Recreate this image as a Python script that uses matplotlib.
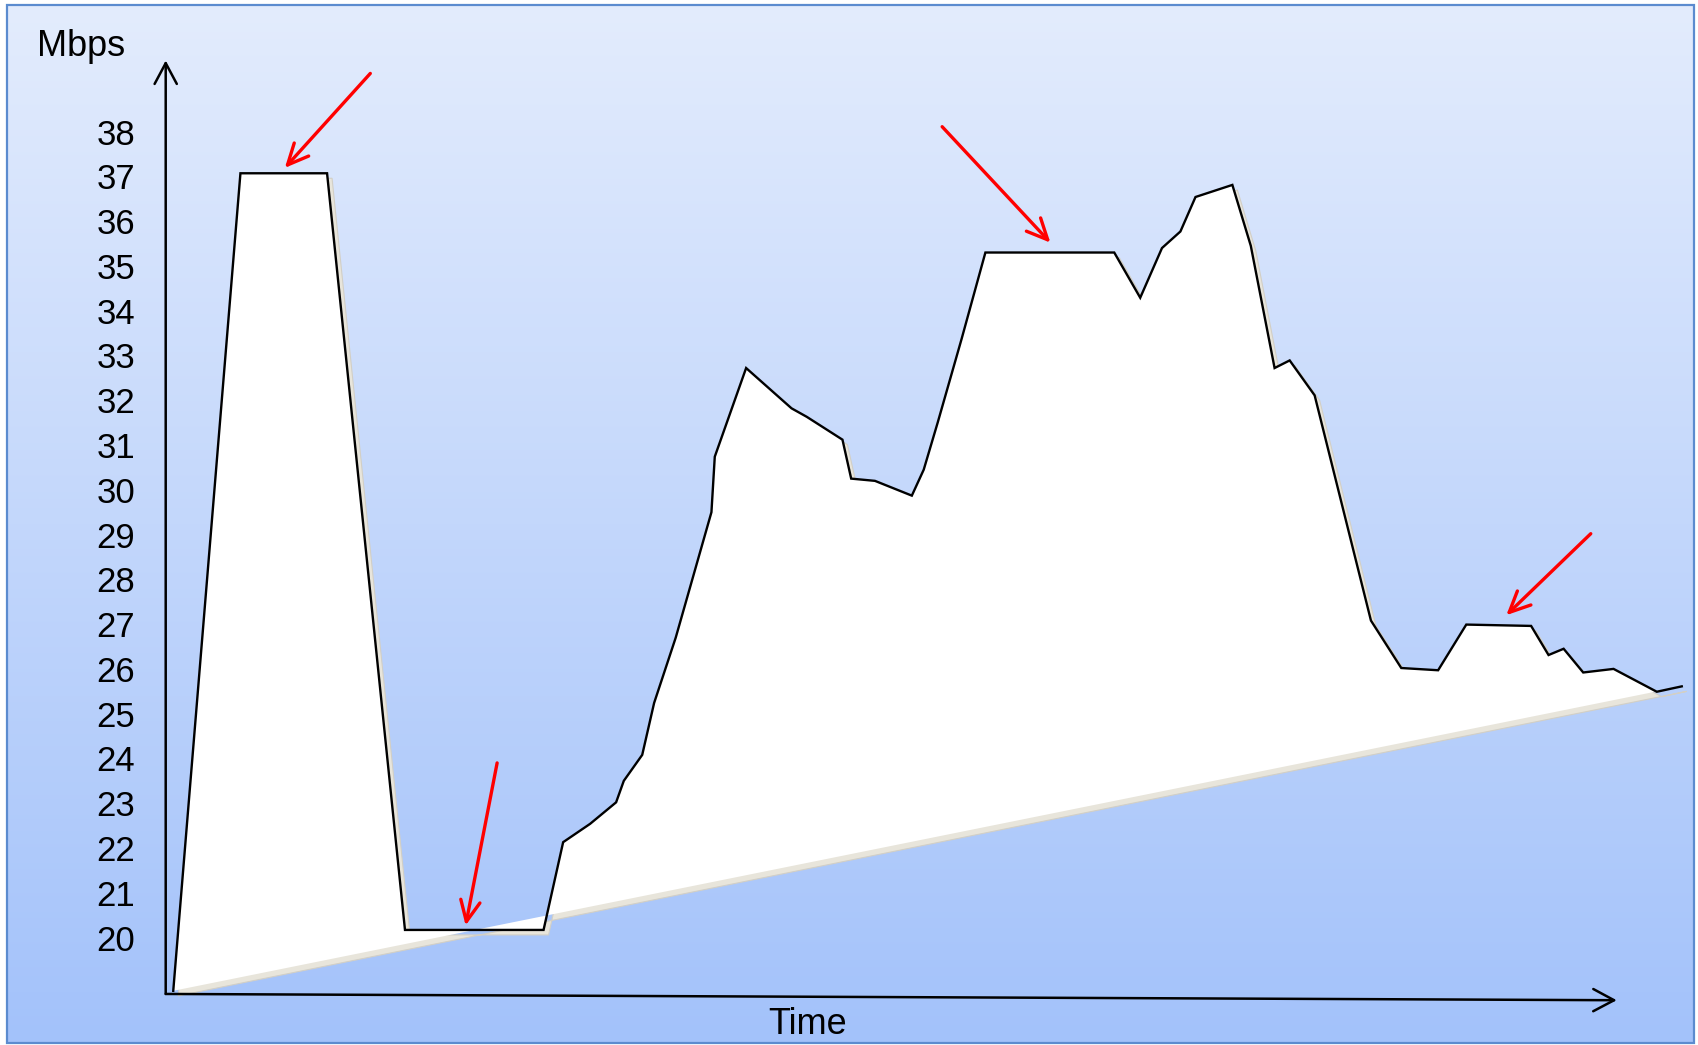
import numpy as np
import matplotlib
matplotlib.use("Agg")
import matplotlib.pyplot as plt
from matplotlib.patches import Polygon, Rectangle
import matplotlib.transforms as mtransforms

plt.rcParams['font.family'] = ['Liberation Sans', 'DejaVu Sans']

# ---- data (time in arbitrary units, throughput in Mbps) ----
time = [0.52, 5.15, 11.12, 16.49, 26.04, 27.39, 29.25, 31.04, 31.57, 32.84,
        33.66, 35.15, 37.61, 37.84, 40.00, 43.13, 44.18, 46.64, 47.24, 48.88,
        51.42, 52.24, 53.21, 54.85, 56.49, 65.37, 67.16, 68.66, 69.93, 70.97,
        73.51, 74.78, 76.42, 77.46, 79.18, 83.06, 85.15, 87.69, 89.63, 94.10,
        95.30, 96.34, 97.69, 99.78, 102.76, 104.48]
mbps = [18.86, 37.12, 37.12, 20.22, 20.22, 22.18, 22.59, 23.07, 23.55, 24.13,
        25.29, 26.75, 29.55, 30.79, 32.77, 31.87, 31.68, 31.17, 30.30, 30.25,
        29.92, 30.50, 31.56, 33.42, 35.35, 35.35, 34.34, 35.45, 35.82, 36.59,
        36.86, 35.50, 32.77, 32.94, 32.16, 27.13, 26.07, 26.02, 27.04, 27.01,
        26.36, 26.50, 25.97, 26.05, 25.54, 25.66]
ytick_values = list(range(20, 39))
ytick_labels = [str(v) for v in ytick_values]

# red annotation arrows: (from_t, from_v, to_t, to_v)
arrows_from_t = [14.10, 22.84, 53.51, 98.21]
arrows_from_v = [39.35, 23.95, 38.16, 29.07]
arrows_to_t = [8.21, 20.67, 60.97, 92.39]
arrows_to_v = [37.24, 20.32, 35.57, 27.25]

fig = plt.figure(figsize=(16.98, 10.45), dpi=100)
fig.patch.set_facecolor('white')
ax = fig.add_axes([0, 0, 1, 1])
ax.set_xlim(-11.42, 105.6)
ax.set_ylim(17.65, 40.99)
ax.axis('off')

# background gradient framed panel
x0, x1 = 7 / 1698, 1694 / 1698
y0, y1 = 1 - 1043 / 1045, 1 - 5 / 1045
top = np.array([0xE3, 0xEC, 0xFD]) / 255
bot = np.array([0xA3, 0xC2, 0xFA]) / 255
n = 256
f = np.linspace(0, 1, n)[:, None]
grad = top[None, :] * (1 - f) + bot[None, :] * f
grad = np.repeat(grad[:, None, :], 2, axis=1)
ax.imshow(grad, extent=(x0, x1, y0, y1), transform=ax.transAxes,
          aspect='auto', zorder=0, interpolation='bilinear')
ax.add_patch(Rectangle((x0, y0), x1 - x0, y1 - y0, transform=ax.transAxes,
                       facecolor='none', edgecolor='#5B8BCF', lw=1.6, zorder=1))

pts = np.column_stack([time, mbps])

# shadow
shadow_tr = mtransforms.offset_copy(ax.transData, fig=fig, x=3.6, y=-3.6, units='points')
ax.add_patch(Polygon(pts, closed=True, facecolor='#E8E5DB', edgecolor='#D2CFC6',
                     lw=0.8, transform=shadow_tr, zorder=2))
# white area
ax.add_patch(Polygon(pts, closed=True, facecolor='white', edgecolor='none', zorder=3))
ax.plot(time, mbps, color='black', lw=1.7, zorder=4, solid_joinstyle='miter')

# axes arrows
axis_style = '->,head_length=0.75,head_width=0.4'
ax.annotate('', xy=(0, 39.64), xytext=(0, 18.79),
            arrowprops=dict(arrowstyle=axis_style, color='black', lw=1.8,
                            mutation_scale=20, shrinkA=0, shrinkB=0), zorder=5)
ax.annotate('', xy=(100, 18.65), xytext=(0, 18.79),
            arrowprops=dict(arrowstyle=axis_style, color='black', lw=1.8,
                            mutation_scale=20, shrinkA=0, shrinkB=0), zorder=5)

# red arrows
for ft, fv, tt, tv in zip(arrows_from_t, arrows_from_v, arrows_to_t, arrows_to_v):
    ax.annotate('', xy=(tt, tv), xytext=(ft, fv),
                arrowprops=dict(arrowstyle='->,head_length=0.75,head_width=0.35',
                                color='#FF0000', lw=2.4, mutation_scale=20,
                                shrinkA=0, shrinkB=0), zorder=6)

# tick labels
for v, lab in zip(ytick_values, ytick_labels):
    ax.text(-2.1, v + 0.05, lab, ha='right', va='center_baseline', fontsize=25, color='black')

ax.text(-5.8, 40.05, 'Mbps', ha='center', va='center_baseline', fontsize=26)
ax.text(44.2, 18.2, 'Time', ha='center', va='center_baseline', fontsize=26)

fig.savefig('out.png', dpi=100, facecolor=fig.get_facecolor())
